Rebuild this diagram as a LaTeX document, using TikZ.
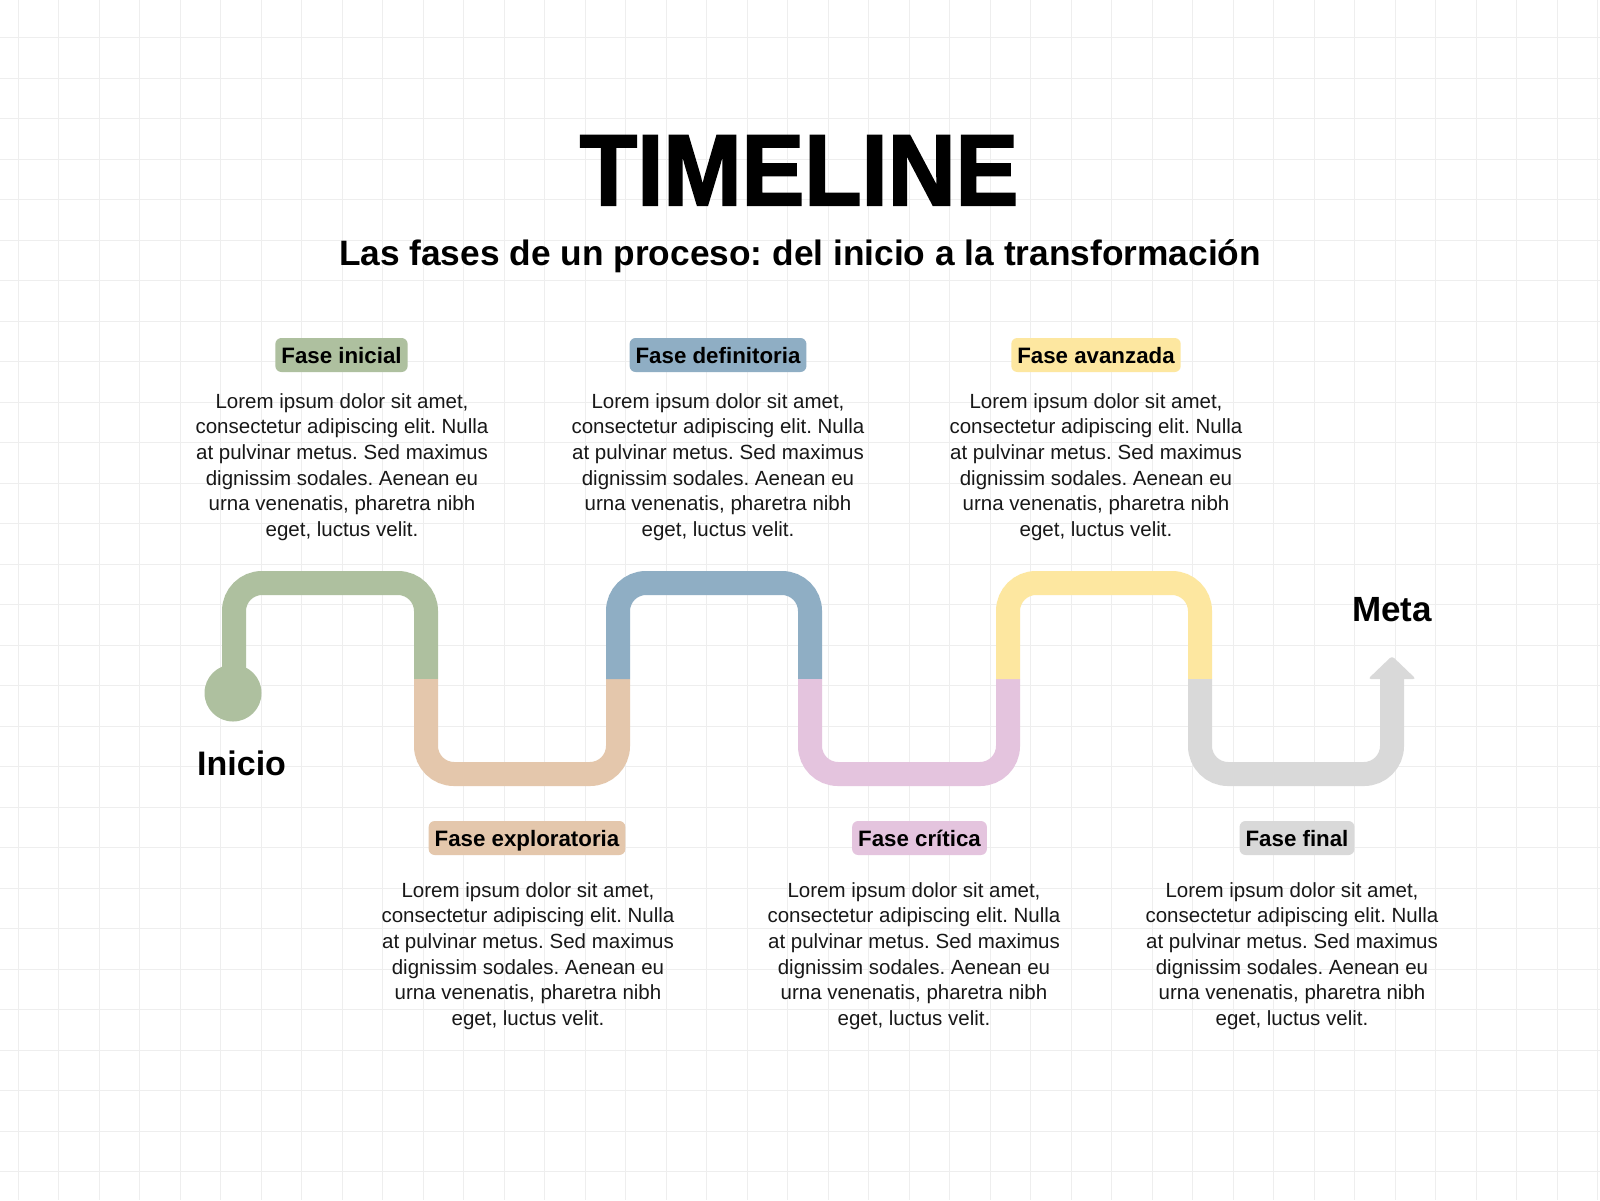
\documentclass[tikz,border=0pt]{standalone}
\usepackage{fontspec}
\setmainfont{Liberation Sans}
\newfontfamily\titlefont[FakeStretch=0.93,FakeBold=2]{Liberation Sans Bold}
\definecolor{cgreen}{RGB}{174,192,159}
\definecolor{cpeach}{RGB}{228,199,172}
\definecolor{cblue}{RGB}{143,174,196}
\definecolor{cpink}{RGB}{228,196,222}
\definecolor{cyellow}{RGB}{253,231,160}
\definecolor{cgray}{RGB}{217,217,217}
\definecolor{cgrid}{RGB}{238,238,238}
\definecolor{ctext}{RGB}{24,24,24}
\frenchspacing
\begin{document}
\begin{tikzpicture}[x=1pt,y=-1pt,
  seg/.style={line width=24pt,rounded corners=28pt,line cap=butt},
  lbl/.style={fill=#1,rounded corners=6pt,inner xsep=6pt,inner ysep=0pt,
    minimum height=34pt,text height=17pt,text depth=0.4pt,
    font=\bfseries\fontsize{22.3}{26}\selectfont,text=black},
  body/.style={anchor=north,align=center,inner sep=0pt,text=ctext,
    font=\frenchspacing\fontsize{20.5}{25.6}\selectfont},
  endlbl/.style={anchor=base west,inner sep=0pt,font=\bfseries\fontsize{34}{40}\selectfont,text=black}]
\useasboundingbox (0,0) rectangle (1600,1200);
\fill[white] (0,0) rectangle (1600,1200);
% grid
\foreach \i in {0,...,39} {\draw[cgrid,line width=1.2pt] ({18.3+40.5*\i},0) -- ({18.3+40.5*\i},1200);}
\foreach \j in {0,...,29} {\draw[cgrid,line width=1.2pt] (0,{37.7+40.5*\j}) -- (1600,{37.7+40.5*\j});}
% titles
\node[inner sep=0pt,anchor=base] (title) at (799,205) {\titlefont\fontsize{101}{110}\selectfont TIMELINE};
\node[inner sep=0pt,anchor=base] (subtitle) at (800,265) {\frenchspacing\bfseries\fontsize{35.3}{40}\selectfont Las fases de un proceso: del inicio a la transformación};
% path coordinates
\coordinate (p0) at (234,693);
\coordinate (a1) at (234,583); \coordinate (a2) at (426,583); \coordinate (m1) at (426,679);
\coordinate (b1) at (426,774); \coordinate (b2) at (618,774); \coordinate (m2) at (618,679);
\coordinate (c1) at (618,583); \coordinate (c2) at (810,583); \coordinate (m3) at (810,679);
\coordinate (d1) at (810,774); \coordinate (d2) at (1008,774); \coordinate (m4) at (1008,679);
\coordinate (e1) at (1008,583); \coordinate (e2) at (1200,583); \coordinate (m5) at (1200,679);
\coordinate (f1) at (1200,774); \coordinate (f2) at (1392,774); \coordinate (m6) at (1392,677);
\coordinate (tipL) at (1368,679); \coordinate (tip) at (1392,656); \coordinate (tipR) at (1416,679);
\draw[seg,cgreen] (p0) -- (a1) -- (a2) -- (m1);
\draw[seg,cpeach] (m1) -- (b1) -- (b2) -- (m2);
\draw[seg,cblue] (m2) -- (c1) -- (c2) -- (m3);
\draw[seg,cpink] (m3) -- (d1) -- (d2) -- (m4);
\draw[seg,cyellow] (m4) -- (e1) -- (e2) -- (m5);
\draw[seg,cgray] (m5) -- (f1) -- (f2) -- (m6);
\fill[cgray,rounded corners=3pt] (tipL) -- (tip) -- (tipR) -- cycle;
\fill[cgreen] (233,693) circle (28.5);
\node[endlbl] (inicio) at (197,775) {Inicio};
\node[endlbl,font=\bfseries\fontsize{35}{40}\selectfont] (meta) at (1352,621) {Meta};
% labels
\node[lbl=cgreen] (l1) at (341.5,355) {Fase inicial};
\node[lbl=cblue] (l3) at (718,355) {Fase definitoria};
\node[lbl=cyellow] (l5) at (1096,355) {Fase avanzada};
\node[lbl=cpeach] (l2) at (527,838) {Fase exploratoria};
\node[lbl=cpink] (l4) at (919.5,838) {Fase crítica};
\node[lbl=cgray] (l6) at (1297,838) {Fase final};
% body texts
\newcommand{\loremtxt}{\rule{0pt}{15pt}Lorem ipsum dolor sit amet,\\consectetur adipiscing elit. Nulla\\at pulvinar metus. Sed maximus\\dignissim sodales. Aenean eu\\urna venenatis, pharetra nibh\\eget, luctus velit.}
\node[body] (t1) at (342,393) {\loremtxt};
\node[body] (t3) at (718,393) {\loremtxt};
\node[body] (t5) at (1096,393) {\loremtxt};
\node[body] (t2) at (528,882) {\loremtxt};
\node[body] (t4) at (914,882) {\loremtxt};
\node[body] (t6) at (1292,882) {\loremtxt};
\end{tikzpicture}
\end{document}
